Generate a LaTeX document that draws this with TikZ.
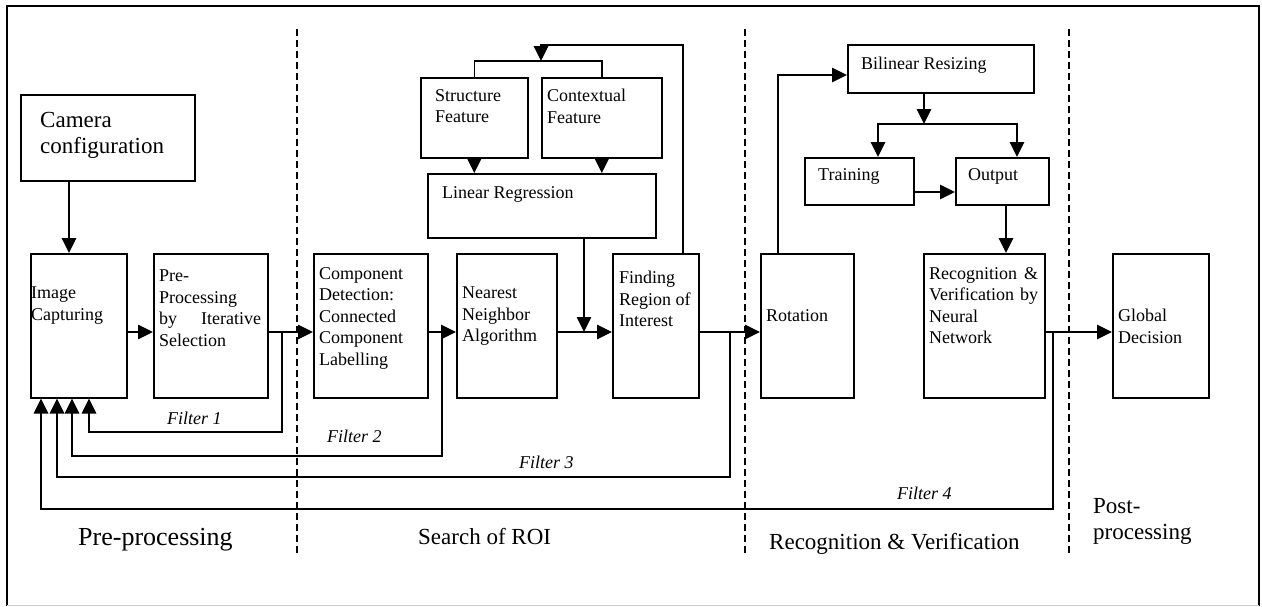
\documentclass[tikz,border=0pt]{standalone}
\usepackage{fontspec}
\setmainfont{Liberation Serif}
\usetikzlibrary{arrows.meta, positioning, calc}

\begin{document}
\begin{tikzpicture}[x=1pt, y=-1pt,
    box/.style={rectangle, draw, line width=1.6pt, inner sep=0pt, anchor=north west},
    txt/.style={inner sep=0pt, anchor=north west, align=left, font=\fontsize{18}{21.5}\selectfont},
    big/.style={inner sep=0pt, anchor=north west, align=left, font=\fontsize{23}{26.5}\selectfont},
    filt/.style={inner sep=0pt, anchor=north west, font=\fontsize{18}{21.5}\selectfont\itshape},
    arr/.style={-{Triangle[length=15pt, width=14.5pt]}, line width=1.6pt},
    link/.style={line width=1.6pt},
    sep/.style={dash pattern=on 7pt off 4pt, line width=1.4pt}]

    \useasboundingbox (0,0) rectangle (1262,606);

    % Frame
    \draw[line width=2pt] (7,606) -- (7,6) -- (1259,6) -- (1259,606);
    \draw[gray!40, line width=1pt] (7,605) -- (1259,605);

    % Stage separators
    \foreach \x in {297,745,1069}
        \draw[sep] (\x,29) -- (\x,553);

    % Pre-processing
    \node[box, minimum width=174, minimum height=86] (cam) at (20,94) {};
    \node[big] (camT) at (40,112) {Camera\\configuration};
    \node[box, minimum width=96, minimum height=144] (cap) at (30,253) {};
    \node[txt] (capT) at (31,287) {Image\\Capturing};
    \node[box, minimum width=114, minimum height=144] (pre) at (153,253) {};
    \node[txt, text width=102] (preT) at (159,270) {Pre-\\Processing\\by\hfill Iterative\\Selection};

    % Search of ROI
    \node[box, minimum width=114, minimum height=144] (comp) at (313,253) {};
    \node[txt] (compT) at (319,267) {Component\\Detection:\\Connected\\Component\\Labelling};
    \node[box, minimum width=100, minimum height=144] (near) at (456,253) {};
    \node[txt] (nearT) at (462,287) {Nearest\\Neighbor\\Algorithm};
    \node[box, minimum width=86, minimum height=144] (find) at (612,253) {};
    \node[txt] (findT) at (619,271) {Finding\\Region of\\Interest};
    \node[box, minimum width=107, minimum height=80] (struct) at (420,77) {};
    \node[txt] (structT) at (435,89) {Structure\\Feature};
    \node[box, minimum width=120, minimum height=80] (ctx) at (541,77) {};
    \node[txt] (ctxT) at (547,89) {Contextual\\Feature};
    \node[box, minimum width=228, minimum height=64] (lr) at (427,173) {};
    \node[txt] (lrT) at (442,186) {Linear Regression};

    % Recognition & Verification
    \node[box, minimum width=93, minimum height=144] (rot) at (760,253) {};
    \node[txt] (rotT) at (766,309) {Rotation};
    \node[box, minimum width=186, minimum height=48] (bil) at (847,44) {};
    \node[txt] (bilT) at (861,57) {Bilinear Resizing};
    \node[box, minimum width=109, minimum height=47] (train) at (804,157) {};
    \node[txt] (trainT) at (818,168) {Training};
    \node[box, minimum width=93, minimum height=47] (out) at (955,157) {};
    \node[txt] (outT) at (968,168) {Output};
    \node[box, minimum width=121, minimum height=144] (recog) at (923,253) {};
    \node[txt, text width=109] (recogT) at (929,267) {Recognition\hfill\&\\Verification\hfill by\\Neural\\Network};

    % Post-processing
    \node[box, minimum width=96, minimum height=144] (glob) at (1112,253) {};
    \node[txt] (globT) at (1118,309) {Global\\Decision};

    % Main flow
    \coordinate (row) at (0,332);
    \draw[arr] (cam.south -| 69,0) -- (cap.north -| 69,0);
    \draw[arr] (cap.east |- row) -- (pre.west |- row);
    \draw[arr] (pre.east |- row) -- (comp.west |- row);
    \draw[arr] (comp.east |- row) -- (near.west |- row);
    \draw[arr] (near.east |- row) -- (find.west |- row);
    \draw[arr] (find.east |- row) -- (rot.west |- row);
    \draw[arr] (recog.east |- row) -- (glob.west |- row);

    % Features into regression
    \coordinate (fb) at (541,61);
    \draw[link] (struct.north) -- (struct.north |- fb) -| (ctx.north);
    \draw[arr] (find.north -| 683,0) |- (fb |- 0,45) -- (fb);
    \draw[arr] (struct.south) -- (struct.south |- lr.north);
    \draw[arr] (ctx.south) -- (ctx.south |- lr.north);
    \draw[arr] (lr.south -| 584,0) -- (row -| 584,0);

    % Neural network branch
    \coordinate (br) at (924,124);
    \draw[arr] (rot.north -| 778,0) |- (bil.west |- 0,75);
    \draw[arr] (bil.south -| br) -- (br);
    \draw[arr] (br) -| (train.north -| 878,0);
    \draw[arr] (br) -| (out.north -| 1017,0);
    \draw[arr] (train.east |- 0,192) -- (out.west |- 0,192);
    \draw[arr] (out.south -| 1006,0) -- (recog.north -| 1006,0);

    % Filters back to capturing
    \coordinate (j1) at (282,332);
    \coordinate (j2) at (442,332);
    \coordinate (j3) at (730,332);
    \coordinate (j4) at (1053,332);
    \draw[arr] (j1) -- ++(0,100) -| (cap.south -| 89,0);
    \draw[arr] (j2) -- ++(0,124) -| (cap.south -| 72,0);
    \draw[arr] (j3) -- ++(0,145) -| (cap.south -| 57,0);
    \draw[arr] (j4) -- ++(0,177) -| (cap.south -| 41,0);
    \node[filt] (f1) at (167,412) {Filter 1};
    \node[filt] (f2) at (327,430) {Filter 2};
    \node[filt] (f3) at (519,456) {Filter 3};
    \node[filt] (f4) at (897,487) {Filter 4};

    % Stage labels
    \node[big, font=\fontsize{26}{30}\selectfont] (lab1) at (78,528) {Pre-processing};
    \node[big] (lab2) at (418,528) {Search of ROI};
    \node[big] (lab3) at (769,533) {Recognition \& Verification};
    \node[big] (lab4) at (1093,498) {Post-\\processing};
\end{tikzpicture}
\end{document}
